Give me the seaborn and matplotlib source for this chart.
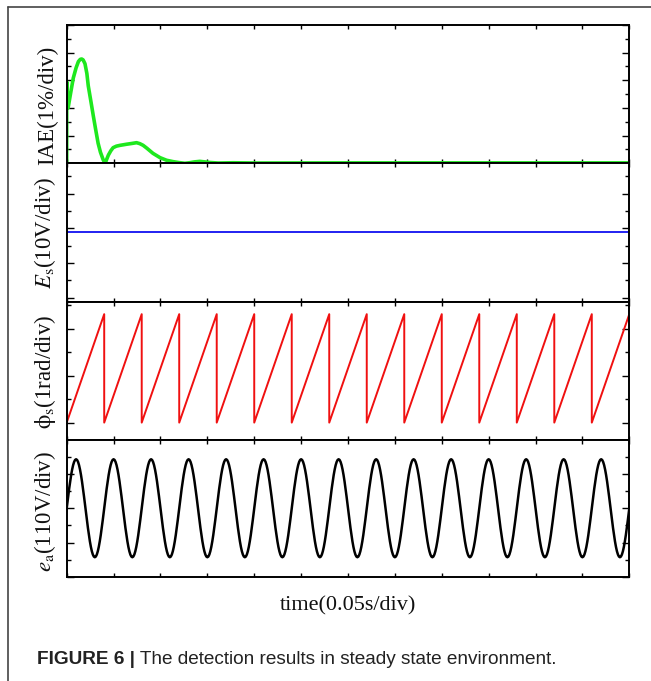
import numpy as np
import matplotlib.pyplot as plt
import seaborn as sns
from matplotlib.lines import Line2D
from matplotlib.ticker import MultipleLocator

sns.set_theme(style='white')
plt.rcParams['font.family'] = ['Liberation Serif', 'DejaVu Serif']
plt.rcParams['mathtext.fontset'] = 'stix'

# ---- data (x in divisions, 0..12) ----
# IAE (green)
iae_t = [0.0, 0.0, 0.03, 0.08, 0.14, 0.2, 0.25, 0.29, 0.32, 0.35, 0.39, 0.43,
         0.46, 0.52, 0.57, 0.62, 0.67, 0.72, 0.78, 0.82, 0.86, 0.89, 0.94, 0.99,
         1.06, 1.14, 1.21, 1.28, 1.38, 1.49, 1.56, 1.63, 1.71, 1.84, 1.99, 2.13,
         2.27, 2.4, 2.52, 2.62, 2.72, 2.84, 2.95, 3.05, 3.23, 3.55, 4.05, 6.0,
         9.0, 12.0]
iae_v = [0.0, 5.9, 4.0, 5.0, 6.16, 6.9, 7.36, 7.52, 7.54, 7.48, 7.2, 6.5,
         5.6, 4.4, 3.38, 2.4, 1.45, 0.8, 0.24, 0.0, 0.35, 0.6, 0.9, 1.13,
         1.24, 1.3, 1.34, 1.38, 1.43, 1.49, 1.42, 1.3, 1.09, 0.72, 0.41, 0.22,
         0.12, 0.05, 0.0, 0.04, 0.1, 0.14, 0.1, 0.06, 0.02, 0.04, 0.02, 0.03,
         0.03, 0.03]

# Es (blue), constant
es_t = [0.0, 12.0]
es_v = [3.8, 3.8]

# phi_s (red) sawtooth: ramps from low to high, drops at each peak time
phi_peak_t = [0.8, 1.6, 2.4, 3.2, 4.0, 4.8, 5.6, 6.4, 7.2, 8.0,
              8.8, 9.6, 10.4, 11.2, 12.0]
phi_low = 0.0
phi_high = 4.62

# e_a (black) sine: peak / trough times and level
ea_peak_t = [0.2, 1.0, 1.8, 2.6, 3.4, 4.2, 5.0, 5.8, 6.6, 7.4,
             8.2, 9.0, 9.8, 10.6, 11.4, 12.2]
ea_trough_t = [-0.2, 0.6, 1.4, 2.2, 3.0, 3.8, 4.6, 5.4, 6.2, 7.0,
               7.8, 8.6, 9.4, 10.2, 11.0, 11.8]
ea_amp = 2.85

labels = ['IAE(1%/div)', r'$E_{\mathrm{s}}$(10V/div)',
          r'$\mathrm{\phi}_{\mathrm{s}}$(1rad/div)', r'$e_{\mathrm{a}}$(110V/div)']
xlabel = 'time(0.05s/div)'

# ---- build paths ----
phi_t, phi_v = [0.0], [phi_low]
for i, p in enumerate(phi_peak_t):
    phi_t.append(p)
    phi_v.append(phi_high)
    if i < len(phi_peak_t) - 1:
        phi_t.append(p)
        phi_v.append(phi_low)

knots = sorted([(t, ea_amp) for t in ea_peak_t] + [(t, -ea_amp) for t in ea_trough_t])
ea_t, ea_v = [], []
for (t0, v0), (t1, v1) in zip(knots[:-1], knots[1:]):
    s = np.linspace(0, 1, 20)
    ea_t.extend(t0 + (t1 - t0) * s)
    ea_v.extend(v0 + (v1 - v0) * (1 - np.cos(np.pi * s)) / 2)

# ---- figure ----
W, H = 651, 681
fig = plt.figure(figsize=(W / 100, H / 100), dpi=100)
fig.patch.set_facecolor('white')

left, right = 66.7, 629.3
tops = [25, 163.3, 301.7, 440, 577]
ylims = [(0, 10), (-0.23, 7.75), (-0.74, 5.15), (-4.0, 3.97)]
series = [(iae_t, iae_v, '#1ee81e', 2.6),
          (es_t, es_v, '#1010f0', 1.3),
          (phi_t, phi_v, '#f01010', 1.4),
          (ea_t, ea_v, 'black', 1.8)]
label_y = [0.42, 0.5, 0.49, 0.48]

axes = []
for i in range(4):
    rect = [left / W, 1 - tops[i + 1] / H, (right - left) / W, (tops[i + 1] - tops[i]) / H]
    ax = fig.add_axes(rect)
    t, v, c, lw = series[i]
    sns.lineplot(x=t, y=v, ax=ax, color=c, linewidth=lw, sort=False, estimator=None)
    ax.set_xlim(0, 12)
    ax.set_ylim(*ylims[i])
    ax.xaxis.set_major_locator(MultipleLocator(1))
    ax.yaxis.set_major_locator(MultipleLocator(2))
    ax.yaxis.set_minor_locator(MultipleLocator(1))
    ax.tick_params(which='both', direction='in', top=True, right=True, left=True, bottom=True,
                   labelleft=False, labelbottom=False, color='black', width=1.0)
    ax.tick_params(axis='y', which='major', length=4.8)
    ax.tick_params(axis='y', which='minor', length=2.8)
    ax.tick_params(axis='x', which='major', length=3.0)
    for sp in ax.spines.values():
        sp.set_color('black')
        sp.set_linewidth(1.4)
    ax.set_ylabel(labels[i], fontsize=16.5, color='#111111')
    ax.yaxis.set_label_coords(-0.015, label_y[i])
    ax.set_facecolor('white')
    axes.append(ax)

fig.text((left + right) / 2 / W, 1 - 606 / H, xlabel, fontsize=16, ha='center', va='center',
         color='#111111')

# caption
cap = fig.text(37 / W, 1 - 660 / H, 'FIGURE 6 |', fontsize=13.7, fontweight='bold',
               family='Liberation Sans', va='center', ha='left', color='#222222')
axes[-1].annotate(' The detection results in steady state environment.', xy=(1, 0),
                  xycoords=cap, xytext=(0, 0), textcoords='offset points',
                  va='bottom', ha='left', fontsize=13.7, family='Liberation Sans',
                  color='#222222', annotation_clip=False)

# frame around the figure
fy = 1 - 7 / H
fx = 8 / W
fig.add_artist(Line2D([fx, 1.0], [fy, fy], transform=fig.transFigure, color='#444444', lw=1.2))
fig.add_artist(Line2D([fx, fx], [fy, 0.0], transform=fig.transFigure, color='#444444', lw=1.2))

fig.savefig('out.png', dpi=100, facecolor='white')
